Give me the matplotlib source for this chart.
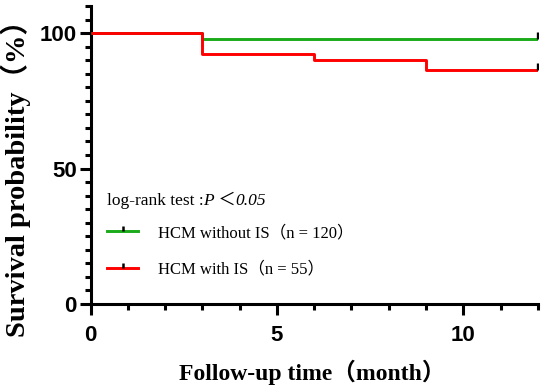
import matplotlib.pyplot as plt
from matplotlib.lines import Line2D
from matplotlib.path import Path

# Kaplan-Meier step data (time in months, survival in %)
time_no_is = [0, 3, 12]
surv_no_is = [100, 98.0, 98.0]
time_is = [0, 3, 6, 9, 12]
surv_is = [100, 92.3, 90.0, 86.3, 86.3]
censor_time = 12

labels = ['HCM without IS\uff08n = 120\uff09', 'HCM with IS\uff08n = 55\uff09']
colors = ['#1aaa1a', '#ff0000']

serif = ['Liberation Serif', 'Noto Sans CJK SC']
sans = 'Liberation Sans'

fig = plt.figure(figsize=(5.46, 3.87), dpi=100)
ax = fig.add_axes([0.166, 0.2145, 0.819, 0.77])

# small upward tick used for censored observations
tick_up = Path([(0, 0), (0, 1)], [Path.MOVETO, Path.LINETO])

for t, s, c in [(time_no_is, surv_no_is, colors[0]), (time_is, surv_is, colors[1])]:
    ax.step(t, s, where='post', color=c, lw=2.1, solid_capstyle='butt', zorder=3)
    ax.plot([censor_time], [s[-1]], marker=tick_up, ms=10, mew=2.4,
            mec='black', ls='none', zorder=4)

ax.set_xlim(0, 12)
ax.set_ylim(0, 110)
ax.set_xticks([0, 5, 10])
ax.set_xticks(range(0, 13), minor=True)
ax.set_yticks([0, 50, 100])
ax.set_yticks(range(0, 111, 5), minor=True)

for side in ['top', 'right']:
    ax.spines[side].set_visible(False)
for side in ['left', 'bottom']:
    ax.spines[side].set_linewidth(2.2)

ax.tick_params(which='major', length=8, width=2.2, direction='out', pad=2)
ax.tick_params(which='minor', length=4.5, width=2.2, direction='out')
for lab in ax.get_xticklabels() + ax.get_yticklabels():
    lab.set_fontfamily(sans)
    lab.set_fontweight('bold')
    lab.set_fontsize(16)
ax.tick_params(axis='x', pad=7)

ax.set_xlabel('Follow-up time\uff08month\uff09', family=serif, weight='bold', fontsize=17)
ax.set_ylabel('Survival probability\uff08%\uff09', family=serif, weight='bold', fontsize=20.5)
ax.xaxis.set_label_coords(0.496, -0.23)
ax.yaxis.set_label_coords(-0.167, 0.445)
ax.xaxis.label.set_va('center')
ax.yaxis.label.set_va('center')

# log-rank annotation, built from pieces so that P and 0.05 are italic
pieces = [('log-rank test :', 'normal'), ('P', 'italic'), (' \uff1c', 'normal'), ('0.05', 'italic')]
fig.canvas.draw()
renderer = fig.canvas.get_renderer()
x_px, y_px = ax.transData.transform((0.43, 36.5))
for txt, style in pieces:
    t = fig.text(x_px / fig.bbox.width, y_px / fig.bbox.height, txt, family=serif,
                 style=style, fontsize=12.5, va='baseline', ha='left')
    x_px += t.get_window_extent(renderer).width

handles = [Line2D([0], [0], color=c, lw=2.1, marker=tick_up, ms=7, mew=1.8, mec='black')
           for c in colors]
ax.legend(handles, labels, loc='upper left', bbox_to_anchor=(0.036, 0.265), frameon=False,
          prop={'family': serif, 'size': 12}, handlelength=1.9, handletextpad=1.15,
          labelspacing=1.25, numpoints=1, borderpad=0, borderaxespad=0)

plt.savefig('out.png', dpi=100, facecolor='white')
